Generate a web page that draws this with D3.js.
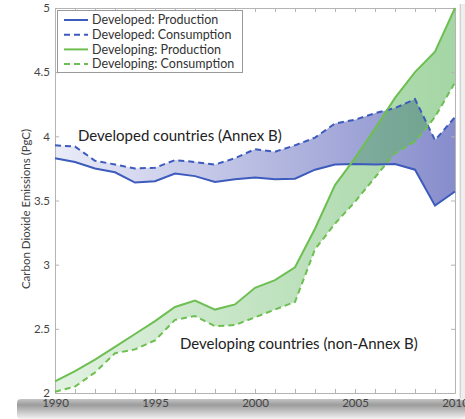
<!DOCTYPE html>
<html>
<head>
<meta charset="utf-8">
<script src="https://cdn.jsdelivr.net/npm/d3@7"></script>
<style>
  body { margin: 0; background: #fff; }
  text { font-family: Lato, "Open Sans", sans-serif; }
</style>
</head>
<body>
<svg id="chart" width="465" height="419"></svg>
<script>
// values (PgC)
var years = [1990,1991,1992,1993,1994,1995,1996,1997,1998,1999,2000,2001,2002,2003,2004,2005,2006,2007,2008,2009,2010];
var developedProduction  = [3.83,3.80,3.75,3.72,3.64,3.65,3.71,3.69,3.645,3.665,3.68,3.665,3.67,3.74,3.78,3.785,3.78,3.785,3.74,3.46,3.57];
var developedConsumption = [3.93,3.92,3.81,3.78,3.75,3.755,3.815,3.80,3.78,3.83,3.90,3.88,3.93,3.99,4.10,4.13,4.18,4.22,4.29,3.97,4.15];
var developingProduction  = [2.09,2.17,2.26,2.36,2.46,2.56,2.67,2.72,2.65,2.69,2.82,2.88,2.98,3.28,3.62,3.83,4.06,4.30,4.50,4.66,5.00];
var developingConsumption = [2.01,2.05,2.16,2.31,2.34,2.41,2.57,2.60,2.52,2.53,2.59,2.65,2.71,3.12,3.32,3.49,3.68,3.87,3.96,4.15,4.42];

var xLabels = [1990,1995,2000,2005,2010];
var yTicks = [2,2.5,3,3.5,4,4.5,5];
var legendNames = ['Developed: Production','Developed: Consumption','Developing: Production','Developing: Consumption'];

var blue = '#3d5bbd', green = '#6dbf52';

var svg = d3.select('#chart');
var x = d3.scaleLinear().domain([1990, 2010]).range([55, 455]);
var y = d3.scaleLinear().domain([2, 5]).range([393, 8]);

var defs = svg.append('defs');
var gb = defs.append('linearGradient').attr('id','blueFill')
  .attr('gradientUnits','userSpaceOnUse').attr('x1',55).attr('x2',455).attr('y1',0).attr('y2',0);
gb.append('stop').attr('offset',0).attr('stop-color','#eaecf8');
gb.append('stop').attr('offset',1).attr('stop-color','#878dcc');
var gg = defs.append('linearGradient').attr('id','greenFill')
  .attr('gradientUnits','userSpaceOnUse').attr('x1',55).attr('x2',455).attr('y1',0).attr('y2',0);
gg.append('stop').attr('offset',0).attr('stop-color','#5ab45a').attr('stop-opacity',0.18);
gg.append('stop').attr('offset',1).attr('stop-color','#5ab45a').attr('stop-opacity',0.55);
var gs = defs.append('linearGradient').attr('id','shadow').attr('x1',0).attr('x2',0).attr('y1',0).attr('y2',1);
gs.append('stop').attr('offset',0).attr('stop-color','#c4c4c4');
gs.append('stop').attr('offset',0.3).attr('stop-color','#9c9c9c');
gs.append('stop').attr('offset',1).attr('stop-color','#f3f3f3');

// card shadow
svg.append('rect').attr('x',17).attr('y',399).attr('width',448).attr('height',20).attr('rx',4)
  .attr('fill','url(#shadow)');
svg.append('rect').attr('x',459).attr('y',4).attr('width',6).attr('height',396).attr('fill','#eeeeee');
svg.append('line').attr('x1',460.5).attr('x2',460.5).attr('y1',4).attr('y2',398).attr('stroke','#d2d2d2');

// bands
function band(lo, hi) {
  return d3.area()
    .x(function(d, i) { return x(years[i]); })
    .y0(function(d, i) { return y(lo[i]); })
    .y1(function(d, i) { return y(hi[i]); })(years);
}
svg.append('path').attr('d', band(developedProduction, developedConsumption)).attr('fill','url(#blueFill)');
svg.append('path').attr('d', band(developingConsumption, developingProduction)).attr('fill','url(#greenFill)');

// axes (ticks inward, box round the plot)
var ax = svg.append('g').attr('class','axes');
var axBottom = d3.axisBottom(x).tickValues(years).tickSizeInner(-4).tickSizeOuter(0).tickPadding(6)
  .tickFormat(function(d) { return xLabels.indexOf(d) >= 0 ? d : ''; });
var axTop = d3.axisTop(x).tickValues(years).tickSizeInner(-4).tickSizeOuter(0).tickFormat('');
var axLeft = d3.axisLeft(y).tickValues(yTicks).tickSizeInner(-4).tickSizeOuter(0).tickPadding(5)
  .tickFormat(function(d) { return d; });
var axRight = d3.axisRight(y).tickValues(yTicks).tickSizeInner(-4).tickSizeOuter(0).tickFormat('');
ax.append('g').attr('transform','translate(0,393)').call(axBottom);
ax.append('g').attr('transform','translate(0,8)').call(axTop);
ax.append('g').attr('transform','translate(55,0)').call(axLeft);
ax.append('g').attr('transform','translate(455,0)').call(axRight);
ax.selectAll('.domain').attr('stroke','#b4b4b4');
ax.selectAll('.tick line').attr('stroke','#b4b4b4');
ax.selectAll('.tick text').attr('fill','#444').style('font-size','11.5px').style('font-family','Lato, sans-serif');

// lines
function line(vals) {
  return d3.line().x(function(d, i) { return x(years[i]); }).y(function(d) { return y(d); })(vals);
}
var series = [
  [developedProduction, blue, null],
  [developedConsumption, blue, '6,4'],
  [developingProduction, green, null],
  [developingConsumption, green, '6,4']
];
series.forEach(function(s) {
  svg.append('path').attr('d', line(s[0])).attr('fill','none')
    .attr('stroke', s[1]).attr('stroke-width', 2).attr('stroke-dasharray', s[2]);
});

// legend
var lg = svg.append('g');
lg.append('rect').attr('x',57.5).attr('y',10.5).attr('width',185).attr('height',62)
  .attr('fill','#fff').attr('stroke','#9a9a9a');
legendNames.forEach(function(n, i) {
  var ly = 20 + i * 14.7;
  lg.append('line').attr('x1',64).attr('x2',88).attr('y1',ly).attr('y2',ly)
    .attr('stroke', series[i][1]).attr('stroke-width',2).attr('stroke-dasharray', series[i][2]);
  lg.append('text').attr('x',92).attr('y',ly + 4.3).attr('fill','#333')
    .style('font-size','12.5px').text(n);
});

// annotations
svg.append('text').attr('x',78).attr('y',141).attr('fill','#222').style('font-size','15px')
  .text('Developed countries (Annex B)');
svg.append('text').attr('x',180).attr('y',349).attr('fill','#222').style('font-size','15px')
  .text('Developing countries (non-Annex B)');

svg.append('text').attr('transform','translate(30,209) rotate(-90)').attr('text-anchor','middle')
  .attr('fill','#444').style('font-size','11.5px').text('Carbon Dioxide Emissions (PgC)');
</script>
</body>
</html>
